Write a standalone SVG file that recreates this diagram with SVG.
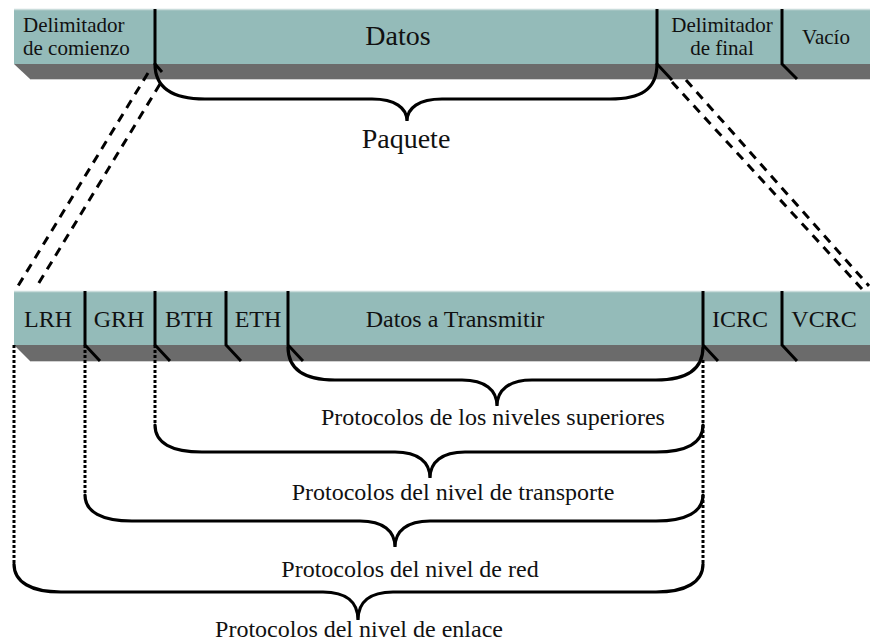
<svg xmlns="http://www.w3.org/2000/svg" width="870" height="642" viewBox="0 0 870 642">
  <style>
    .face { fill: #94bbb9; }
    .edge { fill: none; stroke: #c9dcdb; stroke-width: 1.5; }
    .shade { fill: #6b6b6b; }
    .div { fill: none; stroke: #000; stroke-width: 3; stroke-linejoin: miter; }
    .brace { fill: none; stroke: #000; stroke-width: 3.2; stroke-linecap: round; }
    .dash { fill: none; stroke: #000; stroke-width: 3; stroke-dasharray: 9 7; }
    .dot { fill: none; stroke: #000; stroke-width: 3; stroke-dasharray: 3 2; }
    text { font-family: "Liberation Serif", "Times New Roman", serif; fill: #111; }
    .t21 { font-size: 21px; }
    .t24 { font-size: 24px; }
    .big { font-size: 28px; }
    .mid { text-anchor: middle; }
  </style>

  <!-- Frame on the wire (top bar) -->
  <g id="frame">
    <polygon class="shade" points="14,64 870,64 870,79 30,79"/>
    <line x1="30" y1="79.5" x2="870" y2="79.5" stroke="#d0d0d0" stroke-width="1"/>
    <rect class="face" x="14" y="9" width="856" height="55"/>
    <line class="edge" x1="14" y1="9.5" x2="870" y2="9.5"/>
  </g>
  <g id="field-start">
    <text class="t21" x="23" y="32">Delimitador</text>
    <text class="t21" x="23" y="55">de comienzo</text>
  </g>
  <g id="field-data">
    <text class="big mid" x="398" y="45">Datos</text>
  </g>
  <g id="field-end">
    <text class="t21 mid" x="722" y="32">Delimitador</text>
    <text class="t21 mid" x="722" y="55">de final</text>
  </g>
  <g id="field-empty">
    <text class="t21 mid" x="826" y="44">Vacío</text>
  </g>

  <!-- InfiniBand packet (bottom bar) -->
  <g id="packet">
    <polygon class="shade" points="14,345 870,345 870,361 30,361"/>
    <line x1="30" y1="361.5" x2="870" y2="361.5" stroke="#d0d0d0" stroke-width="1"/>
    <rect class="face" x="14" y="291" width="856" height="54"/>
    <line class="edge" x1="14" y1="291.5" x2="870" y2="291.5"/>
  </g>
  <g id="lrh"><text class="t24 mid" x="48" y="327">LRH</text></g>
  <g id="grh"><text class="t24 mid" x="119" y="327">GRH</text></g>
  <g id="bth"><text class="t24 mid" x="189" y="327">BTH</text></g>
  <g id="eth"><text class="t24 mid" x="258" y="327">ETH</text></g>
  <g id="payload"><text class="t24 mid" x="455" y="327">Datos a Transmitir</text></g>
  <g id="icrc"><text class="t24 mid" x="740" y="327">ICRC</text></g>
  <g id="vcrc"><text class="t24 mid" x="824" y="327">VCRC</text></g>

  <!-- Labels under the braces -->
  <g id="label-paquete"><text class="big mid" x="406" y="148">Paquete</text></g>
  <g id="label-upper"><text class="t24 mid" x="493" y="425">Protocolos de los niveles superiores</text></g>
  <g id="label-transport"><text class="t24 mid" x="453" y="500">Protocolos del nivel de transporte</text></g>
  <g id="label-network"><text class="t24 mid" x="410" y="577">Protocolos del nivel de red</text></g>
  <g id="label-link"><text class="t24 mid" x="359" y="637">Protocolos del nivel de enlace</text></g>

  <g id="connectors">
    <!-- field separators, top bar -->
    <path class="div" d="M155,9 V64 L162,72"/>
    <path class="div" d="M657,9 V64 L672,80"/>
    <path class="div" d="M782,9 V64 L797,79"/>
    <!-- field separators, bottom bar -->
    <path class="div" d="M85,291 V345 L100,361"/>
    <path class="div" d="M155,291 V345 L170,361"/>
    <path class="div" d="M226,291 V345 L241,361"/>
    <path class="div" d="M288,291 V345 L303,361"/>
    <path class="div" d="M703,291 V345 L718,361"/>
    <path class="div" d="M782,291 V345 L797,361"/>

    <!-- zoom lines from the data field to the packet -->
    <path class="dash" d="M148,73 L18,286"/>
    <path class="dash" d="M160,84 L37,286"/>
    <path class="dash" d="M672,82 L862,289"/>
    <path class="dash" d="M686,80 L869,286"/>

    <!-- dotted drop lines -->
    <path class="dot" d="M14,345 V565"/>
    <path class="dot" d="M85,345 V495"/>
    <path class="dot" d="M155,345 V425"/>
    <path class="dot" d="M703,360 V565"/>

    <!-- braces -->
    <path class="brace" d="M155,64 C155,90 175,99 205,99 H372 C395,99 407,108 407,121 C407,108 419,99 442,99 H610 C640,99 657,90 657,64"/>
    <path class="brace" d="M288,347 C288,370 305,380 335,380 H462 C485,380 497,390 497,406 C497,390 509,380 532,380 H656 C686,380 703,370 703,347"/>
    <path class="brace" d="M155,425 C155,443 172,452 202,452 H395 C418,452 430,462 430,478 C430,462 442,452 465,452 H656 C686,452 703,443 703,425"/>
    <path class="brace" d="M85,495 C85,512 102,521 132,521 H360 C383,521 395,531 395,547 C395,531 407,521 430,521 H656 C686,521 703,512 703,495"/>
    <path class="brace" d="M14,564 C14,582 31,592 61,592 H323 C346,592 358,602 358,620 C358,602 370,592 393,592 H656 C686,592 703,582 703,564"/>
  </g>
</svg>
